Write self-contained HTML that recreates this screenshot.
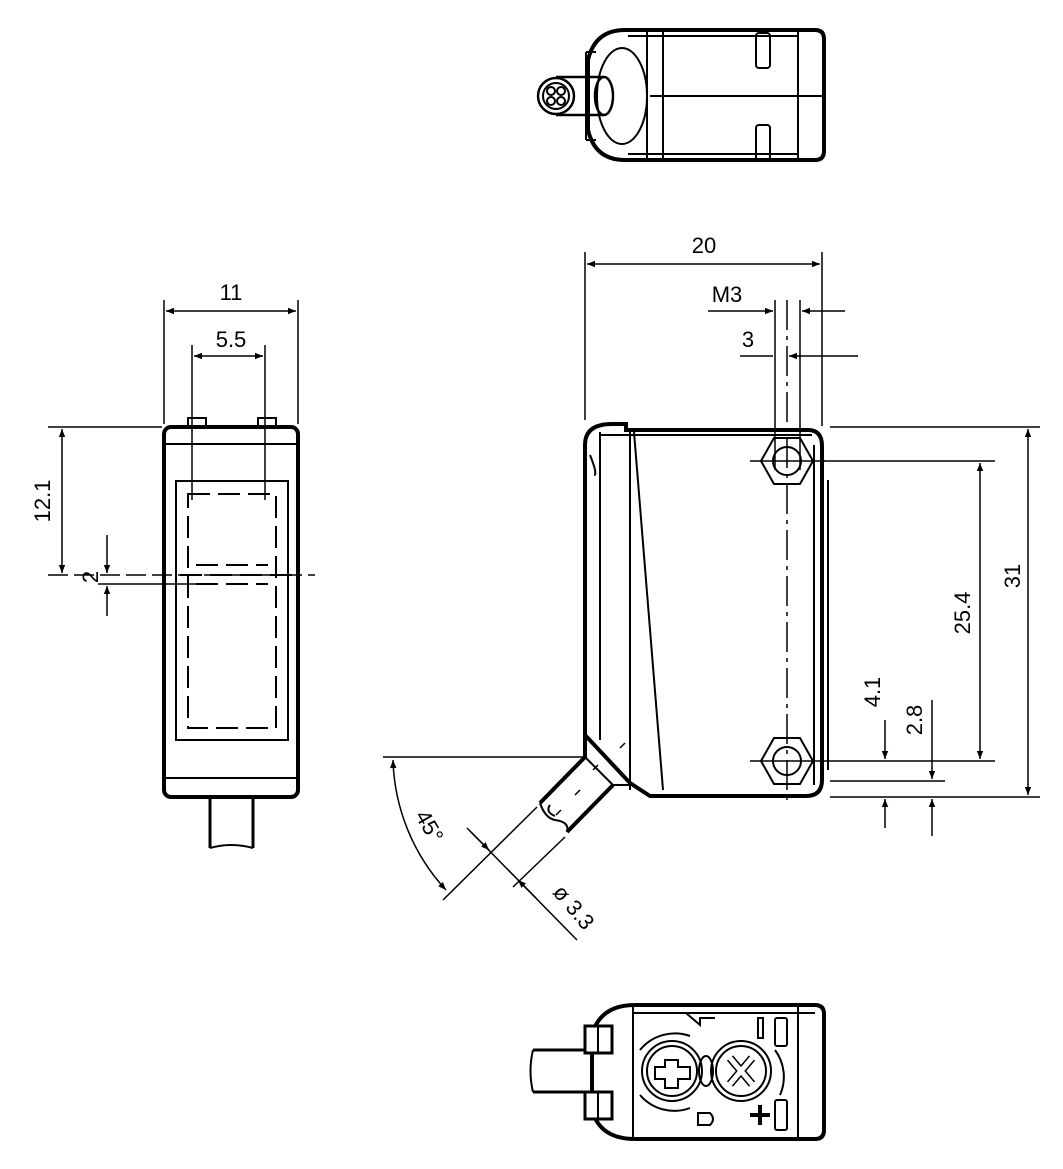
<!DOCTYPE html>
<html><head><style>html,body{margin:0;background:#fff}svg{display:block}</style></head><body>
<svg width="1063" height="1169" viewBox="0 0 1063 1169" xmlns="http://www.w3.org/2000/svg" font-family="Liberation Sans, sans-serif" font-size="22" fill="none" stroke="#000">
<defs><marker id="a" viewBox="0 0 10 10" refX="10" refY="5" markerWidth="14" markerHeight="8" orient="auto-start-reverse" markerUnits="userSpaceOnUse"><path d="M0,1 L10,5 L0,9 z" fill="#000" stroke="none"/></marker></defs>

<!-- TOP VIEW -->
<g stroke-width="2">
<path d="M625,30 H815 Q824,30 824,39 V151 Q824,160 815,160 H625 Q595,160 588,130 V60 Q595,30 625,30 Z" stroke-width="4"/>
<line x1="647" y1="32" x2="647" y2="158"/><line x1="663" y1="32" x2="663" y2="158"/>
<line x1="798" y1="32" x2="798" y2="158"/>
<line x1="650" y1="96" x2="822" y2="96"/>
<line x1="628" y1="36" x2="798" y2="36"/><line x1="628" y1="154" x2="798" y2="154"/>
<rect x="756" y="33" width="14" height="35" rx="3"/><rect x="756" y="125" width="14" height="35" rx="3"/>
<ellipse cx="622" cy="96" rx="25" ry="48"/>
<path d="M586,52 H596 M586,140 H596 M586,52 V140"/>
<path d="M556,77 H604 M556,115 H604" stroke-width="2.5"/>
<ellipse cx="604" cy="96" rx="9" ry="19" stroke-width="2.5"/>
<circle cx="556" cy="96" r="18" fill="#fff" stroke-width="2.5"/><circle cx="556" cy="96" r="13"/>
<circle cx="551" cy="91" r="4"/><circle cx="561" cy="91" r="4"/><circle cx="551" cy="101" r="4"/><circle cx="561" cy="101" r="4"/>
</g>

<!-- LEFT VIEW -->
<g stroke-width="2">
<rect x="164" y="427" width="134" height="370" rx="7" stroke-width="4"/>
<line x1="166" y1="444" x2="296" y2="444"/><line x1="166" y1="778" x2="296" y2="778"/>
<rect x="176" y="481" width="112" height="259"/>
<path d="M188,494 H276 V728 H188 Z" stroke-dasharray="22,8"/>
<path d="M196,565 H268 M196,584 H268 M180,575 H300" stroke-dasharray="22,8"/>
<rect x="188" y="418" width="18" height="10"/><rect x="258" y="418" width="18" height="10"/>
<path d="M210,797 V848 M253,797 V848" stroke-width="3"/>
<path d="M210,848 Q231,842 253,848"/>
</g>
<g stroke-width="1.5">
<line x1="164" y1="300" x2="164" y2="424"/><line x1="298" y1="300" x2="298" y2="424"/>
<line x1="166" y1="311" x2="296" y2="311" marker-start="url(#a)" marker-end="url(#a)"/>
<line x1="192" y1="345" x2="192" y2="500"/><line x1="265" y1="345" x2="265" y2="500"/>
<line x1="194" y1="356" x2="263" y2="356" marker-start="url(#a)" marker-end="url(#a)"/>
<line x1="48" y1="427" x2="162" y2="427"/><line x1="48" y1="575" x2="315" y2="575" stroke-dasharray="20,6"/>
<line x1="62" y1="429" x2="62" y2="573" marker-start="url(#a)" marker-end="url(#a)"/>
<line x1="98" y1="584" x2="196" y2="584"/>
<line x1="107" y1="535" x2="107" y2="573" marker-end="url(#a)"/><line x1="107" y1="616" x2="107" y2="586" marker-end="url(#a)"/>
</g>
<g fill="#000" stroke="none">
<text x="231" y="300" text-anchor="middle">11</text>
<text x="231" y="347" text-anchor="middle">5.5</text>
<text transform="translate(50,501) rotate(-90)" text-anchor="middle">12.1</text>
<text transform="translate(98,577) rotate(-90)" text-anchor="middle">2</text>
</g>

<!-- MAIN VIEW -->
<g stroke-width="2">
<path d="M612,424 H626 V430 H808 Q822,430 822,446 V780 Q822,796 806,796 H650 L630,783 L585,735 V445 Q585,424 612,424 Z" stroke-width="4"/>
<line x1="600" y1="432" x2="600" y2="740"/>
<line x1="630" y1="432" x2="630" y2="790"/>
<line x1="634" y1="432" x2="663" y2="790"/>
<line x1="600" y1="435" x2="812" y2="435"/>
<line x1="814" y1="445" x2="814" y2="785"/>
<line x1="828" y1="480" x2="828" y2="770"/>
<path d="M590,455 Q598,475 594,475"/>
<polygon points="761,461 774,438 800,438 813,461 800,484 774,484"/>
<circle cx="787" cy="461" r="14"/>
<polygon points="761,761 774,738 800,738 813,761 800,784 774,784"/>
<circle cx="787" cy="761" r="14"/>
<!-- cable -->
<path d="M585,735 V757 L540,803 M613,785 L567,832" stroke-width="4"/>
<path d="M585,757 L613,785 M613,785 H630"/>
<path d="M540,803 Q545,818 555,820 Q570,822 567,832 M550,805 Q545,812 555,816"/>
<path d="M593,770 L598,765 M575,795 L580,790 M556,815 L561,810 M620,748 L625,743" stroke-width="1.5"/>
</g>
<g stroke-width="1.5">
<line x1="585" y1="252" x2="585" y2="420"/><line x1="822" y1="252" x2="822" y2="426"/>
<line x1="587" y1="264" x2="820" y2="264" marker-start="url(#a)" marker-end="url(#a)"/>
<line x1="775" y1="300" x2="775" y2="470"/><line x1="800" y1="300" x2="800" y2="470"/>
<line x1="787" y1="300" x2="787" y2="800" stroke-dasharray="30,6,4,6"/>
<line x1="708" y1="311" x2="773" y2="311" marker-end="url(#a)"/><line x1="845" y1="311" x2="802" y2="311" marker-end="url(#a)"/>
<line x1="740" y1="356" x2="773" y2="356"/><line x1="858" y1="356" x2="789" y2="356" marker-end="url(#a)"/>
<line x1="830" y1="427" x2="1040" y2="427"/>
<line x1="820" y1="461" x2="995" y2="461"/><line x1="750" y1="461" x2="825" y2="461"/>
<line x1="830" y1="761" x2="995" y2="761"/><line x1="750" y1="761" x2="830" y2="761"/>
<line x1="830" y1="797" x2="1040" y2="797"/>
<line x1="830" y1="781" x2="945" y2="781"/>
<line x1="1028" y1="429" x2="1028" y2="795" marker-start="url(#a)" marker-end="url(#a)"/>
<line x1="980" y1="463" x2="980" y2="759" marker-start="url(#a)" marker-end="url(#a)"/>
<line x1="885" y1="720" x2="885" y2="759" marker-end="url(#a)"/><line x1="885" y1="828" x2="885" y2="799" marker-end="url(#a)"/>
<line x1="932" y1="700" x2="932" y2="779" marker-end="url(#a)"/><line x1="932" y1="836" x2="932" y2="799" marker-end="url(#a)"/>
<line x1="383" y1="757" x2="583" y2="757"/>
<path d="M393,760 A200,200 0 0 0 446,890" marker-start="url(#a)" marker-end="url(#a)"/>
<line x1="537" y1="807" x2="443" y2="900"/>
<line x1="565" y1="837" x2="513" y2="887"/>
<line x1="467" y1="828" x2="577" y2="940"/>
<line x1="470" y1="831" x2="489" y2="850" marker-end="url(#a)"/>
<line x1="536" y1="898" x2="518" y2="880" marker-end="url(#a)"/>
</g>
<g fill="#000" stroke="none">
<text x="704" y="253" text-anchor="middle">20</text>
<text x="727" y="302" text-anchor="middle">M3</text>
<text x="748" y="347" text-anchor="middle">3</text>
<text transform="translate(1020,576) rotate(-90)" text-anchor="middle">31</text>
<text transform="translate(970,613) rotate(-90)" text-anchor="middle">25.4</text>
<text transform="translate(880,692) rotate(-90)" text-anchor="middle">4.1</text>
<text transform="translate(922,720) rotate(-90)" text-anchor="middle">2.8</text>
<text transform="translate(423,830) rotate(60)" text-anchor="middle">45°</text>
<text transform="translate(568,912) rotate(50)" text-anchor="middle">ø 3.3</text>
</g>

<!-- BOTTOM VIEW -->
<g stroke-width="2">
<path d="M635,1005 H815 Q824,1005 824,1014 V1130 Q824,1139 815,1139 H635 Q600,1139 592,1110 V1035 Q600,1005 635,1005 Z" stroke-width="4"/>
<line x1="633" y1="1007" x2="633" y2="1137"/><line x1="798" y1="1007" x2="798" y2="1137"/>
<line x1="633" y1="1013" x2="815" y2="1013"/>
<rect x="585" y="1026" width="27" height="27" stroke-width="3" fill="#fff"/><rect x="585" y="1092" width="27" height="27" stroke-width="3" fill="#fff"/>
<line x1="598" y1="1026" x2="598" y2="1053"/><line x1="598" y1="1092" x2="598" y2="1119"/>
<path d="M533,1050 H585 M533,1092 H585" stroke-width="3"/>
<path d="M533,1050 Q528,1071 533,1092"/>
<circle cx="672" cy="1071" r="30"/><circle cx="672" cy="1071" r="25"/>
<circle cx="741" cy="1071" r="30"/><circle cx="741" cy="1071" r="25"/>
<path d="M665,1060 H678 V1067 H690 V1079 H678 V1088 H665 V1079 H655 V1067 H665 Z"/>
<path d="M730,1058 L752,1084 M752,1058 L730,1084" stroke-width="8" stroke="#000"/>
<path d="M730,1058 L752,1084 M752,1058 L730,1084" stroke-width="5" stroke="#fff"/>
<ellipse cx="706" cy="1071" rx="7" ry="15"/>
<path d="M640,1050 A45,45 0 0 1 690,1036 M640,1095 A45,45 0 0 0 690,1108 M775,1050 A45,45 0 0 1 780,1095"/>
<rect x="758" y="1018" width="5" height="20"/><rect x="775" y="1018" width="12" height="28" rx="2"/><rect x="775" y="1100" width="12" height="30" rx="2"/>
<path d="M750,1115 H770 M760,1105 V1125" stroke-width="4"/>
<path d="M698,1113 H710 Q716,1119 710,1125 H698 Z"/>
<path d="M686,1013 L700,1025 V1018 H715"/>
</g>
</svg>
</body></html>
